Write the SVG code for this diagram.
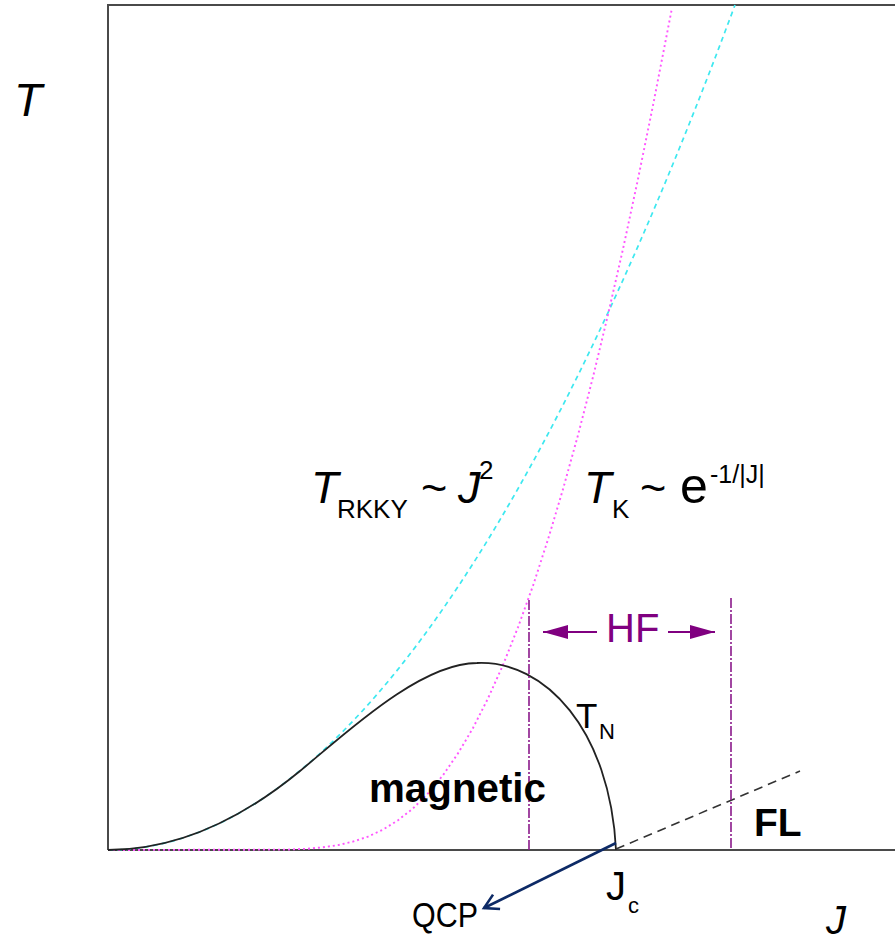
<svg xmlns="http://www.w3.org/2000/svg" width="895" height="944" viewBox="0 0 895 944">
<style>
text{font-family:"Liberation Sans",Arial,sans-serif;fill:#000}
.it{font-style:italic}
.frame{fill:none;stroke:#4a4a4a;stroke-width:2}
.cyan{fill:none;stroke:#3ee8f0;stroke-width:1.7;stroke-dasharray:5 4}
.mag{fill:none;stroke:#ff55ff;stroke-width:1.9;stroke-dasharray:2 3}
.tn{fill:none;stroke:#222;stroke-width:1.8}
.vl{fill:none;stroke:#8a1a8a;stroke-width:1.6;stroke-dasharray:10 2 2 2}
.fl{fill:none;stroke:#333;stroke-width:1.6;stroke-dasharray:9 6}
.hf{fill:none;stroke:#800080;stroke-width:2}
.qcp{fill:none;stroke:#0d2a66;stroke-width:2.6}
</style>
<defs>
<marker id="hfh" markerWidth="26" markerHeight="14" refX="25" refY="7" orient="auto" markerUnits="userSpaceOnUse">
<path d="M0,0 L25,7 L0,14 z" fill="#800080"/>
</marker>
<marker id="qh" markerWidth="20" markerHeight="20" refX="16" refY="10" orient="auto" markerUnits="userSpaceOnUse">
<path d="M2,2 L16,10 L2,18" fill="none" stroke="#0d2a66" stroke-width="2.6"/>
</marker>
</defs>
<g id="frame">
<path class="frame" d="M108,850 L108,5 L897,5 M108,850 L897,850"/>
</g>
<g id="connectors">
<path id="rkky" class="cyan" d="M108,850 Q421.5,850 735,5"/>
<polyline id="kondo" class="mag" points="108,850 288,849.6 308,848.7 323,847.3 338,845.1 353,841.6 368,836.6 383,829.6 398,820.3 413,808.4 428,793.4 443,775.2 458,753.4 473,728 488,698.4 503,665 518,627.3 533,585.7 548,539.5 563,489.2 578,435.1 593,377 608,314.6 623,249 638,179 653,105.4 672,8"/>
<path id="tn" class="tn" d="M108,850 Q204,850 300,771 C345,734 420,663 477,663 C545,660 610,730 616,850"/>
<path id="fl" class="fl" d="M616,849 L800,771"/>
<path id="hf1" class="vl" d="M529,600 L529,850"/>
<path id="hf2" class="vl" d="M731,598 L731,850"/>
<path id="hfl" class="hf" d="M597,632 L543,632" marker-end="url(#hfh)"/>
<path id="hfr" class="hf" d="M668,632 L715,632" marker-end="url(#hfh)"/>
<path id="qcpa" class="qcp" d="M616,843 L484,908" marker-end="url(#qh)"/>
</g>
<g id="labels">
<text class="it" x="14" y="116" font-size="46">T</text>
<text class="it" x="826" y="934" font-size="40">J</text>
<text x="606" y="900" font-size="40">J</text>
<text x="628" y="913" font-size="22">c</text>
<text x="412" y="927" font-size="35" textLength="66" lengthAdjust="spacingAndGlyphs">QCP</text>
<g id="trkky">
<text class="it" x="311" y="503" font-size="45">T</text>
<text x="337" y="518" font-size="26">RKKY</text>
<text x="421" y="503" font-size="45">~</text>
<text class="it" x="458" y="503" font-size="45">J</text>
<text x="479" y="479" font-size="26">2</text>
</g>
<g id="tk">
<text class="it" x="584" y="503" font-size="45">T</text>
<text x="612" y="518" font-size="26">K</text>
<text x="640" y="503" font-size="45">~</text>
<text x="680" y="503" font-size="50">e</text>
<text x="710" y="483" font-size="25">-1/|J|</text>
</g>
<text x="606" y="642" font-size="40" style="fill:#800080">HF</text>
<text x="576" y="728" font-size="35">T</text>
<text x="599" y="739" font-size="22">N</text>
<text x="369" y="802" font-size="40" font-weight="bold" textLength="177" lengthAdjust="spacingAndGlyphs">magnetic</text>
<text x="754" y="836" font-size="39" font-weight="bold">FL</text>
</g>
</svg>
